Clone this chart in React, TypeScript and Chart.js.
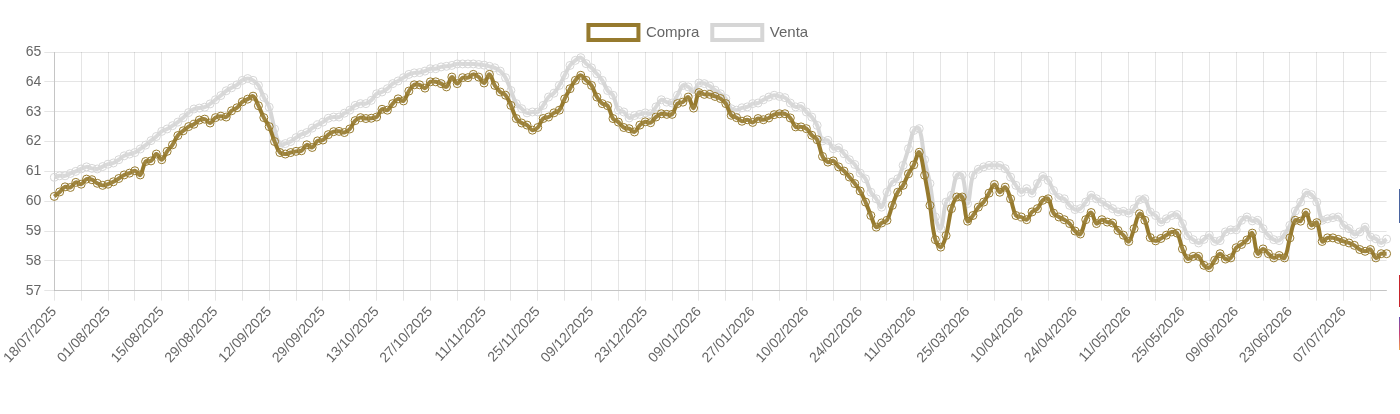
import React, { useEffect, useRef } from "react";
import { Chart, registerables } from "chart.js";

Chart.register(...registerables);

const tickLabels = ["18/07/2025","01/08/2025","15/08/2025","29/08/2025","12/09/2025","29/09/2025","13/10/2025","27/10/2025","11/11/2025","25/11/2025","09/12/2025","23/12/2025","09/01/2026","27/01/2026","10/02/2026","24/02/2026","11/03/2026","25/03/2026","10/04/2026","24/04/2026","11/05/2026","25/05/2026","09/06/2026","23/06/2026","07/07/2026"];

const compra = [60.16,60.31,60.48,60.46,60.63,60.57,60.74,60.72,60.6,60.53,60.57,60.65,60.76,60.88,60.94,61.02,60.88,61.33,61.35,61.58,61.39,61.67,61.89,62.2,62.36,62.5,62.58,62.72,62.75,62.62,62.8,62.85,62.82,63.03,63.13,63.33,63.42,63.52,63.2,62.8,62.5,62.0,61.63,61.58,61.63,61.67,61.69,61.89,61.8,62.02,62.05,62.23,62.33,62.34,62.3,62.42,62.7,62.8,62.77,62.78,62.82,63.08,63.05,63.27,63.43,63.36,63.69,63.9,63.9,63.79,64.0,64.0,63.94,63.83,64.16,63.94,64.14,64.14,64.25,64.16,63.96,64.25,63.88,63.66,63.55,63.21,62.77,62.62,62.55,62.38,62.47,62.77,62.82,62.96,63.05,63.43,63.77,64.05,64.22,64.05,63.88,63.49,63.27,63.2,62.77,62.65,62.47,62.43,62.32,62.55,62.66,62.63,62.82,62.93,62.91,62.91,63.27,63.32,63.49,63.12,63.64,63.58,63.58,63.51,63.44,63.27,62.88,62.8,62.68,62.73,62.64,62.77,62.73,62.79,62.9,62.93,62.93,62.79,62.49,62.49,62.43,62.21,62.06,61.5,61.31,61.35,61.15,61.01,60.81,60.59,60.34,59.97,59.52,59.13,59.27,59.36,59.86,60.3,60.53,60.92,61.22,61.64,60.87,59.86,58.71,58.46,58.85,59.75,60.14,60.14,59.33,59.52,59.8,59.97,60.27,60.56,60.3,60.47,60.08,59.52,59.47,59.38,59.64,59.75,60.03,60.08,59.6,59.47,59.38,59.25,59.0,58.9,59.38,59.62,59.25,59.38,59.3,59.27,59.02,58.86,58.65,59.08,59.58,59.36,58.78,58.67,58.75,58.86,58.97,58.93,58.4,58.07,58.15,58.15,57.85,57.77,58.02,58.24,58.06,58.1,58.44,58.55,58.7,58.93,58.24,58.4,58.24,58.1,58.18,58.1,58.77,59.36,59.33,59.62,59.19,59.28,58.65,58.77,58.77,58.72,58.65,58.6,58.52,58.38,58.32,58.38,58.1,58.24,58.24];

const venta = [60.8,60.85,60.85,60.93,61.0,61.08,61.15,61.1,61.08,61.16,61.24,61.28,61.39,61.52,61.58,61.63,61.75,61.88,62.03,62.17,62.34,62.42,62.53,62.65,62.8,62.97,63.09,63.12,63.15,63.26,63.4,63.54,63.7,63.8,63.9,64.05,64.11,64.05,63.88,63.48,63.15,62.42,61.89,61.93,62.0,62.13,62.24,62.3,62.45,62.56,62.65,62.78,62.82,62.82,62.95,63.05,63.21,63.27,63.27,63.38,63.6,63.66,63.77,63.94,64.03,64.14,64.25,64.3,64.31,64.36,64.44,64.44,64.5,64.52,64.55,64.6,64.6,64.6,64.6,64.58,64.56,64.52,64.47,64.36,64.14,63.71,63.27,63.1,62.96,62.99,62.99,63.21,63.49,63.62,63.88,64.22,64.55,64.72,64.81,64.61,64.47,64.27,64.05,63.71,63.55,63.05,62.99,62.79,62.87,62.91,62.96,62.93,63.16,63.4,63.32,63.29,63.55,63.88,63.83,63.66,63.96,63.94,63.86,63.72,63.6,63.44,63.1,63.05,63.13,63.16,63.27,63.29,63.4,63.49,63.55,63.51,63.47,63.29,63.16,63.18,62.99,62.82,62.54,62.02,62.04,61.76,61.79,61.59,61.39,61.23,60.94,60.75,60.3,60.08,59.8,60.3,60.64,60.75,61.2,61.76,62.37,62.43,61.39,60.59,59.47,59.08,59.97,60.2,60.87,60.87,59.92,60.87,61.07,61.15,61.2,61.2,61.2,61.09,60.81,60.53,60.3,60.42,60.27,60.59,60.83,60.7,60.36,60.12,60.08,59.86,59.72,59.75,59.97,60.2,60.08,59.97,59.86,59.75,59.64,59.66,59.6,59.75,60.05,60.08,59.64,59.52,59.3,59.41,59.52,59.55,59.25,58.85,58.71,58.6,58.72,58.86,58.65,58.68,58.97,59.04,59.04,59.36,59.47,59.34,59.36,59.08,58.85,58.71,58.68,58.89,59.19,59.67,59.97,60.28,60.22,59.97,59.36,59.41,59.45,59.47,59.19,59.08,58.89,58.97,59.13,58.8,58.74,58.6,58.73];

const TICK_STEP = 5;
const LABEL_STEP = 10;
const categories = compra.map((_, i) => (i % LABEL_STEP === 0 ? tickLabels[i / LABEL_STEP] : ""));

const FONT = '"Liberation Sans", Arial, sans-serif';
const GOLD = "#967a2e";
const GRAY = "#d6d6d6";

function sideBar(top: number, height: number, background: string) {
  return <div style={{ position: "absolute", left: 1399, top, width: 1, height, background }} />;
}

// The legend's own height sets where the plot starts below it.
const legendGap = {
  id: "legendGap",
  beforeLayout(c: any) {
    const legend = c.legend;
    if (!legend || legend.__wrapped) return;
    const fit = legend.fit;
    legend.fit = function (this: any) {
      fit.call(this);
      this.height = 40;
    };
    legend.__wrapped = true;
  },
};

export default function App() {
  const ref = useRef<HTMLCanvasElement>(null);
  useEffect(() => {
    if (!ref.current) return;
    const chart = new Chart(ref.current, {
      type: "line",
      plugins: [legendGap],
      data: {
        labels: categories,
        datasets: [
          { label: "Compra", data: compra, borderColor: GOLD, backgroundColor: "rgba(255,255,255,0)", borderWidth: 4, tension: 0.4, pointRadius: 4, pointBorderWidth: 1, pointBorderColor: GOLD, pointBackgroundColor: "rgba(255,255,255,0.08)", fill: false },
          { label: "Venta", data: venta, borderColor: GRAY, backgroundColor: "rgba(255,255,255,0)", borderWidth: 4, tension: 0.4, pointRadius: 4, pointBorderWidth: 1, pointBorderColor: GRAY, pointBackgroundColor: "rgba(255,255,255,0.08)", fill: false },
        ],
      },
      options: {
        responsive: false,
        animation: false,
        devicePixelRatio: 1,
        layout: { padding: { right: 13.4, left: 10, top: 12, bottom: 44.6 } },
        plugins: {
          tooltip: { enabled: false },
          legend: { position: "top", labels: { boxWidth: 50, padding: 13, color: "#666", font: { family: FONT, size: 15 } } },
        },
        scales: {
          x: {
            grid: { color: "rgba(0,0,0,0.1)", tickLength: 10 },
            border: { color: "rgba(0,0,0,0.14)" },
            afterBuildTicks: (axis: any) => { axis.ticks = axis.ticks.filter((t: any) => t.value % TICK_STEP === 0); },
            afterFit: (axis: any) => { axis.paddingLeft = 54.3; axis.paddingRight = 0; },
            ticks: {
              autoSkip: false, maxRotation: 47, minRotation: 47, color: "#666",
              font: { family: FONT, size: 14 },
              callback: (v: any) => (Number(v) % LABEL_STEP === 0 ? categories[Number(v)] : ""),
            },
          },
          y: {
            min: 57, max: 65,
            grid: { color: "rgba(0,0,0,0.1)", tickLength: 10 },
            border: { color: "rgba(0,0,0,0.14)" },
            ticks: { stepSize: 1, color: "#666", font: { family: FONT, size: 14 } },
          },
        },
      },
    } as any);
    return () => chart.destroy();
  }, []);
  return (
    <div style={{ position: "fixed", left: 0, top: 0, width: 1400, height: 414, background: "#fff", overflow: "hidden" }}>
      <canvas ref={ref} width={1400} height={414} style={{ display: "block" }} />
      {sideBar(189, 34, "#4a64a0")}
      {sideBar(275, 32, "#c8232c")}
      {sideBar(317, 33, "linear-gradient(#6a4fb0,#c8407a,#f0a850)")}
    </div>
  );
}
